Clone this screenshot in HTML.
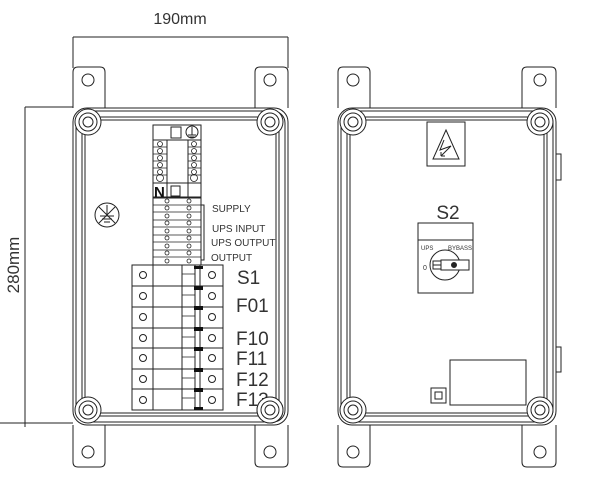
<!DOCTYPE html>
<html><head><meta charset="utf-8"><style>
html,body{margin:0;padding:0;background:#fff;}
svg{display:block}
text{font-family:"Liberation Sans",sans-serif;fill:#333}
</style></head><body>
<svg width="600" height="487" viewBox="0 0 600 487" xmlns="http://www.w3.org/2000/svg" fill="none" stroke="#222" stroke-width="1">
<!-- dimensions -->
<text x="180" y="24" font-size="16" text-anchor="middle" stroke="none">190mm</text>
<line x1="73" y1="37" x2="288" y2="37"/>
<line x1="73" y1="37" x2="73" y2="68"/>
<line x1="288" y1="37" x2="288" y2="68"/>
<line x1="25" y1="107" x2="73" y2="107"/>
<line x1="25" y1="107" x2="25" y2="427"/>
<line x1="0" y1="423" x2="73" y2="423"/>
<text transform="translate(19,265) rotate(-90)" font-size="17" text-anchor="middle" stroke="none">280mm</text>

<!-- LEFT BOX -->
<g id="box">
<path d="M73,108 V72 Q73,67 78,67 H100 Q105,67 105,72 V108"/>
<path d="M255,108 V72 Q255,67 260,67 H283 Q288,67 288,72 V108"/>
<circle cx="88" cy="80" r="6"/><circle cx="270" cy="80" r="6"/>
<path d="M73,425 V462 Q73,467 78,467 H100 Q105,467 105,462 V425"/>
<path d="M255,425 V462 Q255,467 260,467 H283 Q288,467 288,462 V425"/>
<circle cx="88" cy="452" r="6"/><circle cx="270" cy="452" r="6"/>
<rect x="73" y="108" width="215" height="317" rx="14"/>
<rect x="76" y="111" width="209" height="311" rx="12"/>
<rect x="82" y="117" width="197" height="299" rx="12"/>
<rect x="85" y="120" width="191" height="293" rx="10"/>
<g fill="#fff">
<circle cx="88" cy="122" r="13"/><circle cx="270" cy="122" r="13"/>
<circle cx="88" cy="410" r="13"/><circle cx="270" cy="410" r="13"/>
</g>
<circle cx="88" cy="122" r="9"/><circle cx="88" cy="122" r="5"/>
<circle cx="270" cy="122" r="9"/><circle cx="270" cy="122" r="5"/>
<circle cx="88" cy="410" r="9"/><circle cx="88" cy="410" r="5"/>
<circle cx="270" cy="410" r="9"/><circle cx="270" cy="410" r="5"/>
</g>

<!-- earth symbol -->
<circle cx="107" cy="215" r="12"/>
<line x1="99" y1="207" x2="115" y2="223"/><line x1="115" y1="207" x2="99" y2="223"/>
<line x1="107" y1="205" x2="107" y2="216"/>
<line x1="100" y1="216" x2="114" y2="216"/><line x1="102" y1="219" x2="112" y2="219"/><line x1="104" y1="222" x2="110" y2="222"/>

<!-- upper terminal block -->
<rect x="153" y="125" width="48" height="72"/>
<line x1="153" y1="140" x2="201" y2="140"/>
<line x1="153" y1="183" x2="201" y2="183"/>
<rect x="171" y="127" width="10" height="11"/>
<circle cx="192" cy="132" r="6"/>
<path d="M192,127 V135 M188,135 H196 M189.5,137 H194.5"/>
<line x1="167" y1="140" x2="167" y2="197"/>
<line x1="188" y1="140" x2="188" y2="197"/>
<g stroke-width="0.8">
<path d="M153,147 H167 M153,154 H167 M153,161 H167 M153,168 H167 M153,175 H167 M188,147 H201 M188,154 H201 M188,161 H201 M188,168 H201 M188,175 H201"/>
<circle cx="160" cy="144" r="2.5"/><circle cx="160" cy="151" r="2.5"/><circle cx="160" cy="158" r="2.5"/><circle cx="160" cy="165" r="2.5"/><circle cx="160" cy="172" r="2.5"/><circle cx="160" cy="178" r="3.5"/>
<circle cx="194" cy="144" r="2.5"/><circle cx="194" cy="151" r="2.5"/><circle cx="194" cy="158" r="2.5"/><circle cx="194" cy="165" r="2.5"/><circle cx="194" cy="172" r="2.5"/><circle cx="194" cy="178" r="3.5"/>
</g>
<text x="154" y="197" font-size="15" font-weight="bold" stroke="none" style="fill:#111">N</text>
<rect x="171" y="186" width="9" height="10"/>

<!-- lower terminal block -->
<rect x="153" y="198" width="48" height="67"/>
<rect x="201" y="205" width="3" height="55"/>
<g stroke-width="0.8">
<path d="M153,205 H201 M153,212 H201 M153,220 H201 M153,227 H201 M153,235 H201 M153,242 H201 M153,250 H201 M153,257 H201"/>
<circle cx="167" cy="201" r="2"/><circle cx="167" cy="208" r="2"/><circle cx="167" cy="216" r="2"/><circle cx="167" cy="223" r="2"/><circle cx="167" cy="231" r="2"/><circle cx="167" cy="238" r="2"/><circle cx="167" cy="246" r="2"/><circle cx="167" cy="253" r="2"/><circle cx="167" cy="261" r="2"/>
<circle cx="189" cy="201" r="2"/><circle cx="189" cy="208" r="2"/><circle cx="189" cy="216" r="2"/><circle cx="189" cy="223" r="2"/><circle cx="189" cy="231" r="2"/><circle cx="189" cy="238" r="2"/><circle cx="189" cy="246" r="2"/><circle cx="189" cy="253" r="2"/><circle cx="189" cy="261" r="2"/>
</g>
<g font-size="10" stroke="none">
<text x="212" y="212">SUPPLY</text>
<text x="212" y="232">UPS INPUT</text>
<text x="211" y="246">UPS OUTPUT</text>
<text x="211" y="261">OUTPUT</text>
</g>

<!-- breakers -->
<rect x="132" y="265" width="91" height="145"/>
<path d="M153,265 V410 M182,265 V410 M200,265 V410 M195,265 V410"/>
<path d="M132,286 H223 M132,307 H223 M132,328 H223 M132,348 H223 M132,369 H223 M132,389 H223"/>
<circle cx="143" cy="275" r="3.5"/><circle cx="143" cy="296" r="3.5"/><circle cx="143" cy="317" r="3.5"/><circle cx="143" cy="338" r="3.5"/><circle cx="143" cy="358" r="3.5"/><circle cx="143" cy="379" r="3.5"/><circle cx="143" cy="400" r="3.5"/>
<circle cx="212" cy="275" r="3.5"/><circle cx="212" cy="296" r="3.5"/><circle cx="212" cy="317" r="3.5"/><circle cx="212" cy="338" r="3.5"/><circle cx="212" cy="358" r="3.5"/><circle cx="212" cy="379" r="3.5"/><circle cx="212" cy="400" r="3.5"/>
<path stroke-width="0.7" d="M182,274 H195 M182,295 H195 M182,316 H195 M182,337 H195 M182,357 H195 M182,378 H195 M182,398 H195"/>
<g fill="#111" stroke="none">
<rect x="194" y="266" width="9" height="3"/><rect x="194" y="286" width="9" height="4"/><rect x="194" y="306" width="9" height="4"/><rect x="194" y="327" width="9" height="4"/><rect x="194" y="347" width="9" height="4"/><rect x="194" y="368" width="9" height="4"/><rect x="194" y="388" width="9" height="4"/><rect x="194" y="407" width="9" height="3"/>
</g>
<g font-size="19" stroke="none">
<text x="237" y="284">S1</text>
<text x="236" y="312">F01</text>
<text x="236" y="345">F10</text>
<text x="236" y="365">F11</text>
<text x="236" y="386">F12</text>
<text x="236" y="406">F13</text>
</g>
<circle cx="270" cy="410" r="13" fill="#fff"/><circle cx="270" cy="410" r="9"/><circle cx="270" cy="410" r="5"/>

<!-- RIGHT BOX -->
<g transform="translate(265,0)">
<path d="M73,108 V72 Q73,67 78,67 H100 Q105,67 105,72 V108"/>
<path d="M257,108 V72 Q257,67 262,67 H286 Q291,67 291,72 V108"/>
<circle cx="88" cy="80" r="6"/><circle cx="275" cy="80" r="6"/>
<path d="M73,425 V462 Q73,467 78,467 H100 Q105,467 105,462 V425"/>
<path d="M257,425 V462 Q257,467 262,467 H286 Q291,467 291,462 V425"/>
<circle cx="88" cy="452" r="6"/><circle cx="275" cy="452" r="6"/>
<rect x="73" y="108" width="218" height="317" rx="14"/>
<rect x="76" y="111" width="212" height="311" rx="12"/>
<rect x="82" y="117" width="200" height="299" rx="12"/>
<rect x="85" y="120" width="194" height="293" rx="10"/>
<g fill="#fff">
<circle cx="88" cy="122" r="13"/><circle cx="275" cy="122" r="13"/>
<circle cx="88" cy="410" r="13"/><circle cx="275" cy="410" r="13"/>
</g>
<circle cx="88" cy="122" r="9"/><circle cx="88" cy="122" r="5"/>
<circle cx="275" cy="122" r="9"/><circle cx="275" cy="122" r="5"/>
<circle cx="88" cy="410" r="9"/><circle cx="88" cy="410" r="5"/>
<circle cx="275" cy="410" r="9"/><circle cx="275" cy="410" r="5"/>
<rect x="291" y="154" width="5" height="26"/>
<rect x="291" y="347" width="5" height="25"/>
</g>
<!-- warning -->
<rect x="427" y="122" width="38" height="44"/>
<path d="M446,130 L459,159 H433 Z"/>
<path d="M444,140 L440,150 L451,146 L441,156 M441,156 V152 M441,156 H445"/>
<!-- S2 -->
<text x="448" y="219" font-size="19" text-anchor="middle" stroke="none">S2</text>
<rect x="418" y="223" width="55" height="17"/>
<rect x="418" y="240" width="55" height="53"/>
<text x="421" y="250" font-size="6" stroke="none">UPS</text>
<text x="448" y="250" font-size="6" stroke="none">BYBASS</text>
<text x="423" y="270" font-size="7" stroke="none">0</text>
<circle cx="445" cy="265" r="15"/>
<rect x="441" y="260" width="28" height="10" fill="#fff"/>
<rect x="433" y="261" width="8" height="8" fill="#fff"/>
<line x1="433" y1="265" x2="441" y2="265"/>
<circle cx="454" cy="265" r="2.5" fill="#222"/>
<!-- label & square -->
<rect x="450" y="360" width="76" height="45"/>
<rect x="431" y="388" width="15" height="15"/>
<rect x="435" y="392" width="7" height="7"/>
</svg>
</body></html>
